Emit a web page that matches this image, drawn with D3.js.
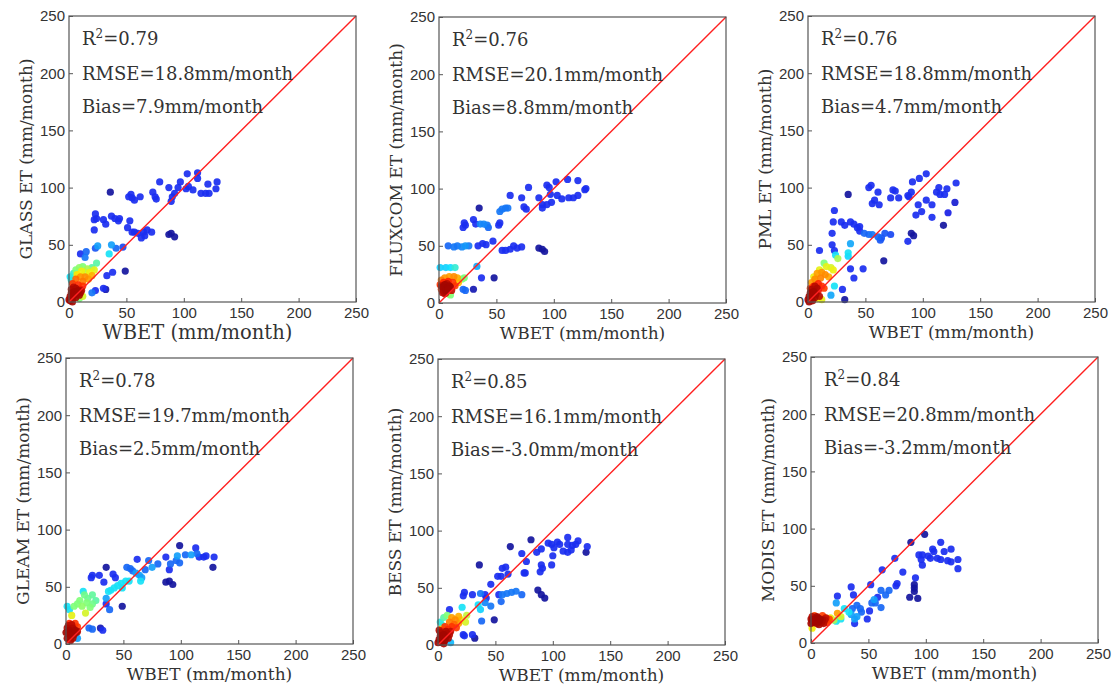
<!DOCTYPE html>
<html>
<head>
<meta charset="utf-8">
<script src="https://cdn.jsdelivr.net/npm/d3@7"></script>
<style>
  body { margin: 0; background: #fff; }
  .tick text { font-family: "Liberation Sans", Arial, sans-serif; font-size: 15px; fill: #333; }
  .tick line { stroke: #555; }
  .lab { font-family: "DejaVu Serif", serif; fill: #333; }
</style>
</head>
<body>
<script>
// products and stats
var products = ["GLASS ET", "FLUXCOM ET", "PML ET", "GLEAM ET", "BESS ET", "MODIS ET"];
var r2 = ["0.79", "0.76", "0.76", "0.78", "0.85", "0.84"];
var rmse = ["18.8", "20.1", "18.8", "19.7", "16.1", "20.8"];
var bias = ["7.9", "8.8", "4.7", "2.5", "-3.0", "-3.2"];
var ticks = [0, 50, 100, 150, 200, 250];
var oneToOne = [0, 250];

// points: [WBET, product ET, density 0..1]
var glass = [
  [103,112,.13],[112,113,.13],[129,105,.13],[121,103,.13],[128,99,.13],[79,105,.13],[87,100,.13],[97,105,.13],
  [95,100,.13],[102,99,.13],[108,98,.13],[115,95,.13],[119,95,.13],[122,95,.13],[112,108,.13],[104,101,.13],
  [90,92,.13],[89,88,.13],[92,95,.13],[73,96,.13],[75,92,.13],[76,90,.13],[54,94,.13],[62,92,.13],[55,91,.13],
  [57,89,.13],[52,92,.13],[23,77,.13],[22,72,.13],[24,73,.13],[30,72,.13],[32,68,.13],[37,75,.13],[40,73,.13],
  [43,71,.13],[44,73,.13],[53,71,.13],[51,65,.13],[22,63,.13],[55,61,.13],[57,61,.13],[60,60,.13],[65,61,.13],
  [68,63,.13],[72,61,.13],[63,56,.13],[66,58,.13],[10,42,.13],[38,26,.13],[33,23,.13],[30,12,.13],[23,10,.13],
  [36,96,.03],[87,59,.03],[89,60,.03],[92,57,.03],[49,27,.03],[32,11,.05],
  [15,44,.2],[14,39,.22],[23,47,.18],[41,47,.2],[47,48,.16],[20,8,.22],[25,49,.27],[37,50,.27],[35,42,.36],
  [1,22,.36],[2,19,.38],[4,25,.4],[6,28,.5],[9,30,.52],[12,31,.5],[16,29,.55],[14,26,.58],[20,30,.45],[24,34,.45],
  [11,27,.63],[18,26,.63],[22,28,.62],[7,24,.66],[9,3,.5],[12,5,.6],
  [10,22,.75],[14,22,.76],[17,20,.74],[12,18,.78],[20,23,.72],[6,20,.8],
  [3,16,.86],[8,15,.87],[12,14,.86],[5,12,.9],[10,11,.9],
  [0,2,.97],[1,5,.97],[2,8,.97],[3,3,.97],[4,6,.97],[5,9,.97],[6,4,.97],[7,7,.97],[8,10,.97],[9,6,.97],
  [2,11,.96],[4,13,.95],[6,12,.96],[10,8,.96],[1,1,.97],[3,0,.97],[11,10,.95]
];
var fluxcom = [
  [112,108,.13],[102,106,.13],[121,107,.13],[128,100,.13],[127,99,.13],[94,103,.13],[96,101,.13],[97,95,.13],
  [103,94,.13],[107,91,.13],[113,92,.13],[117,92,.13],[121,94,.13],[98,88,.13],[94,86,.13],[78,101,.13],
  [87,92,.13],[90,86,.13],[90,83,.13],[74,84,.13],[76,82,.13],[62,94,.13],[72,92,.13],[52,68,.13],[53,70,.13],
  [22,70,.13],[23,68,.13],[21,66,.13],[30,73,.13],[32,69,.13],[47,54,.13],[38,52,.13],[41,51,.13],[34,50,.13],
  [55,46,.13],[58,46,.13],[62,47,.13],[65,50,.13],[68,48,.13],[72,49,.13],[37,22,.13],[21,12,.2],[23,11,.2],
  [53,80,.22],[55,82,.22],[58,83,.22],[60,83,.22],[36,69,.24],[39,69,.24],[42,68,.22],[43,66,.2],
  [8,50,.2],[13,49,.22],[16,50,.22],[20,49,.24],[23,50,.26],[26,50,.22],[33,32,.28],
  [35,83,.03],[87,48,.03],[90,47,.03],[92,45,.03],[48,22,.03],[30,12,.05],
  [1,31,.33],[6,31,.33],[10,31,.35],[14,31,.4],
  [20,21,.5],[22,22,.5],[8,8,.52],[10,7,.5],
  [5,22,.75],[9,23,.74],[13,23,.76],[16,22,.72],[2,20,.78],[17,18,.7],
  [1,16,.86],[4,18,.88],[8,19,.88],[12,18,.86],[14,15,.84],[2,12,.86],
  [3,14,.97],[5,16,.97],[7,13,.97],[9,15,.97],[4,10,.96],[6,11,.97],[8,12,.97],[10,14,.96],[5,8,.95],
  [3,9,.95],[7,17,.95],[11,11,.94],[2,15,.95],[6,9,.96]
];
var pml = [
  [103,112,.13],[97,108,.13],[91,105,.13],[129,104,.13],[114,100,.13],[121,99,.13],[112,96,.13],[115,94,.13],
  [119,94,.13],[108,74,.13],[103,89,.13],[108,85,.13],[96,85,.13],[99,79,.13],[94,76,.13],[90,96,.13],
  [87,93,.13],[88,92,.13],[74,98,.13],[76,97,.13],[72,91,.13],[79,91,.13],[55,102,.13],[53,100,.13],
  [61,96,.13],[56,86,.13],[58,89,.13],[62,85,.13],[23,80,.13],[22,70,.13],[21,60,.13],[29,70,.13],[32,67,.13],
  [37,70,.13],[40,68,.13],[43,65,.13],[45,66,.13],[45,62,.13],[21,50,.13],[23,45,.13],[10,45,.13],[37,29,.13],
  [48,29,.13],[40,21,.13],[30,11,.13],[87,53,.13],
  [128,87,.08],[122,78,.1],[118,67,.03],[90,60,.03],[92,58,.03],[66,36,.03],[35,94,.03],[32,2,.03],
  [49,60,.2],[53,59,.2],[56,59,.22],[61,57,.2],[63,54,.18],[64,56,.18],[67,60,.18],[72,59,.16],
  [37,51,.28],[20,6,.28],[24,41,.36],[35,43,.36],[35,40,.34],[23,14,.36],
  [26,38,.55],[14,34,.5],[20,30,.6],[22,28,.63],
  [5,22,.63],[10,28,.62],[16,31,.62],[8,3,.64],[12,2,.62],
  [3,17,.74],[8,25,.74],[12,26,.75],[15,24,.76],[18,22,.73],[6,20,.76],[11,21,.77],
  [2,12,.86],[5,14,.87],[9,16,.88],[12,14,.86],[14,12,.85],[9,10,.9],
  [0,2,.97],[1,5,.97],[2,8,.97],[3,3,.97],[4,6,.97],[5,9,.97],[6,4,.97],[7,7,.97],[8,12,.96],[3,11,.96],
  [6,14,.95],[1,0,.97],[10,5,.95],[4,1,.97]
];
var gleam = [
  [99,86,.03],[128,67,.03],[90,55,.03],[87,54,.03],[93,52,.03],[35,67,.03],[49,33,.03],[30,14,.05],
  [113,84,.13],[129,76,.13],[116,76,.13],[120,76,.13],[122,77,.13],[62,74,.13],[23,60,.13],[22,58,.13],
  [29,60,.13],[33,54,.13],[41,61,.13],[43,58,.13],[87,76,.13],[32,12,.13],[90,65,.13],[35,35,.13],
  [104,78,.2],[114,79,.2],[99,71,.2],[91,70,.2],[96,73,.2],[80,70,.2],[72,73,.2],[69,65,.2],[53,67,.2],
  [56,66,.2],[58,64,.2],[38,30,.2],[20,14,.2],[23,13,.2],
  [109,78,.27],[97,77,.27],[75,67,.27],[61,62,.27],[64,60,.27],[66,58,.27],[35,40,.27],[10,5,.27],
  [65,55,.36],[55,55,.36],[52,55,.36],[48,53,.36],[49,49,.36],[45,51,.36],[42,49,.36],[39,47,.36],
  [37,46,.36],[15,46,.36],[3,30,.36],[1,33,.36],
  [16,43,.48],[23,43,.46],[10,35,.5],[14,33,.52],[18,36,.5],[23,35,.48],[21,32,.5],[7,33,.5],[12,38,.5],
  [19,40,.47],[26,38,.45],[17,27,.6],[5,25,.62],
  [8,18,.86],[10,15,.85],[3,18,.88],
  [1,5,.97],[2,9,.97],[3,12,.97],[4,7,.97],[5,10,.97],[6,14,.96],[7,8,.97],[8,12,.97],[9,10,.96],
  [1,14,.96],[2,16,.95],[5,17,.95],[6,5,.96],[10,11,.95],[0,10,.97],[4,3,.96]
];
var bess = [
  [113,94,.13],[122,91,.13],[130,86,.13],[104,90,.13],[96,89,.13],[99,88,.13],[106,88,.13],[113,88,.13],
  [117,87,.13],[120,88,.13],[101,85,.13],[109,82,.13],[113,81,.13],[116,83,.13],[100,78,.13],[90,84,.13],
  [86,81,.13],[73,80,.13],[90,70,.13],[91,67,.13],[99,70,.13],[89,64,.13],[77,73,.13],[75,63,.13],
  [76,63,.13],[56,67,.13],[59,68,.13],[52,60,.13],[55,60,.13],[61,62,.13],[46,53,.13],[23,46,.13],
  [22,43,.13],[30,44,.13],[41,44,.13],[53,44,.13],[42,41,.13],[22,9,.13],[23,8,.13],[30,9,.13],[10,31,.13],
  [129,81,.03],[81,92,.03],[63,86,.03],[36,70,.03],[87,48,.03],[90,44,.03],[93,41,.03],[49,22,.03],[32,6,.03],
  [37,45,.22],[56,44,.22],[60,45,.22],[64,46,.22],[68,47,.22],[73,44,.2],[55,38,.2],[38,21,.2],[46,34,.22],
  [41,37,.24],[35,35,.35],[37,31,.33],[21,33,.36],[11,2,.3],
  [2,20,.38],[5,24,.45],[8,26,.5],[4,17,.4],
  [20,22,.62],[24,20,.6],[25,26,.58],[3,14,.64],
  [12,24,.74],[15,22,.76],[18,25,.72],[10,20,.78],[14,18,.8],[18,19,.74],
  [6,16,.86],[9,14,.87],[12,16,.86],[16,15,.85],[4,12,.88],
  [0,2,.97],[1,5,.97],[2,8,.97],[3,3,.97],[4,6,.97],[5,9,.97],[6,4,.97],[7,7,.97],[8,10,.96],[9,6,.96],
  [2,11,.96],[10,9,.95],[11,12,.94],[1,13,.95],[7,12,.96],[5,1,.96]
];
var modis = [
  [99,95,.03],[87,88,.03],[90,51,.03],[90,48,.03],[90,45,.03],[86,40,.03],[93,39,.03],
  [73,74,.13],[62,64,.13],[52,51,.13],[80,62,.13],[113,88,.13],[106,82,.13],[107,80,.13],[122,82,.13],
  [116,80,.13],[94,77,.13],[97,77,.13],[96,73,.13],[102,76,.13],[104,74,.13],[110,74,.13],[113,73,.13],
  [119,72,.13],[122,71,.13],[128,73,.13],[128,65,.13],[97,68,.13],[91,57,.13],[75,52,.13],[74,50,.13],
  [35,49,.13],[37,42,.13],[23,41,.13],[51,28,.13],[49,21,.13],[38,17,.13],[58,40,.13],
  [68,46,.2],[65,42,.2],[61,46,.2],[56,35,.2],[53,35,.2],[61,31,.2],[40,33,.2],[43,30,.2],[44,27,.2],[36,30,.2],
  [55,38,.27],[22,35,.27],[38,21,.27],[40,23,.27],[35,25,.27],
  [29,30,.36],[33,27,.36],[22,19,.36],[26,21,.36],
  [26,23,.6],[17,22,.62],[20,20,.55],[1,13,.64],
  [23,26,.74],[15,20,.76],[12,22,.78],
  [14,18,.86],[16,21,.84],[10,24,.85],[3,24,.84],
  [0,17,.97],[1,20,.97],[2,18,.97],[3,21,.97],[4,19,.97],[5,17,.97],[6,22,.97],[7,19,.97],[8,21,.97],
  [9,18,.96],[10,20,.96],[11,17,.95],[12,20,.95],[1,23,.95],[5,23,.96],[7,16,.96],[13,22,.94],[0,21,.96]
];
var series = [glass, fluxcom, pml, gleam, bess, modis];

// panel boxes (left, top)
var boxes = [[69, 16], [439, 17], [808, 16], [66, 358], [438, 359], [811, 357]];
var W = 287, H = 286;

// jet-like colour map for point density
var jet = d3.scaleLinear()
  .domain([0, 0.11, 0.125, 0.35, 0.5, 0.65, 0.89, 1])
  .range(["#10107f", "#1a22f0", "#1a2af0", "#10e0ff", "#80ff7a", "#ffee00", "#ff1a00", "#800000"]);

var svg = d3.select("body")
  .append("svg")
  .attr("width", 1115)
  .attr("height", 688);

boxes.forEach(function(b, i) {
  var g = svg.append("g")
    .attr("transform", "translate(" + b[0] + "," + b[1] + ")");

  var x = d3.scaleLinear().domain([0, 250]).range([0, W]);
  var y = d3.scaleLinear().domain([0, 250]).range([H, 0]);

  var xAxis = g.append("g")
    .attr("transform", "translate(0," + H + ")")
    .call(d3.axisBottom(x).tickValues(ticks).tickSizeInner(-4).tickSizeOuter(0).tickPadding(5));
  var yAxis = g.append("g")
    .call(d3.axisLeft(y).tickValues(ticks).tickSizeInner(-4).tickSizeOuter(0).tickPadding(4));
  xAxis.select(".domain").remove();
  yAxis.select(".domain").remove();

  var pts = series[i].slice().sort(function(a, b) { return a[2] - b[2]; });
  g.selectAll("circle")
    .data(pts)
    .enter().append("circle")
    .attr("cx", function(d) { return x(d[0]); })
    .attr("cy", function(d) { return y(d[1]); })
    .attr("r", 3.6)
    .attr("fill", function(d) { return jet(d[2]); })
    .attr("fill-opacity", 0.92);

  g.append("line")
    .attr("x1", x(oneToOne[0])).attr("y1", y(oneToOne[0]))
    .attr("x2", x(oneToOne[1])).attr("y2", y(oneToOne[1]))
    .attr("stroke", "#ff2020")
    .attr("stroke-width", 1.4);

  g.append("rect")
    .attr("width", W).attr("height", H)
    .attr("fill", "none")
    .attr("stroke", "#555")
    .attr("stroke-width", 1.2);

  // stats text
  var t = g.append("text").attr("class", "lab").attr("x", 13).attr("y", 29).style("font-size", "18px");
  t.append("tspan").text("R");
  t.append("tspan").attr("dy", -7).style("font-size", "12px").text("2");
  t.append("tspan").attr("dy", 7).text("=" + r2[i]);
  g.append("text").attr("class", "lab").attr("x", 13).attr("y", 64).style("font-size", "18px")
    .text("RMSE=" + rmse[i] + "mm/month");
  g.append("text").attr("class", "lab").attr("x", 13).attr("y", 97).style("font-size", "18px")
    .text("Bias=" + bias[i] + "mm/month");

  // axis labels
  g.append("text").attr("class", "lab")
    .attr("x", i == 0 ? W / 2 - 15 : W / 2)
    .attr("y", i == 0 ? H + 37 : H + 36)
    .style("text-anchor", "middle")
    .style("font-size", i == 0 ? "19.5px" : "17px")
    .text("WBET (mm/month)");
  g.append("text").attr("class", "lab")
    .attr("transform", "rotate(-90)")
    .attr("x", -H / 2)
    .attr("y", -37)
    .style("text-anchor", "middle")
    .style("font-size", "17px")
    .text(products[i] + " (mm/month)");
});
</script>
</body>
</html>
